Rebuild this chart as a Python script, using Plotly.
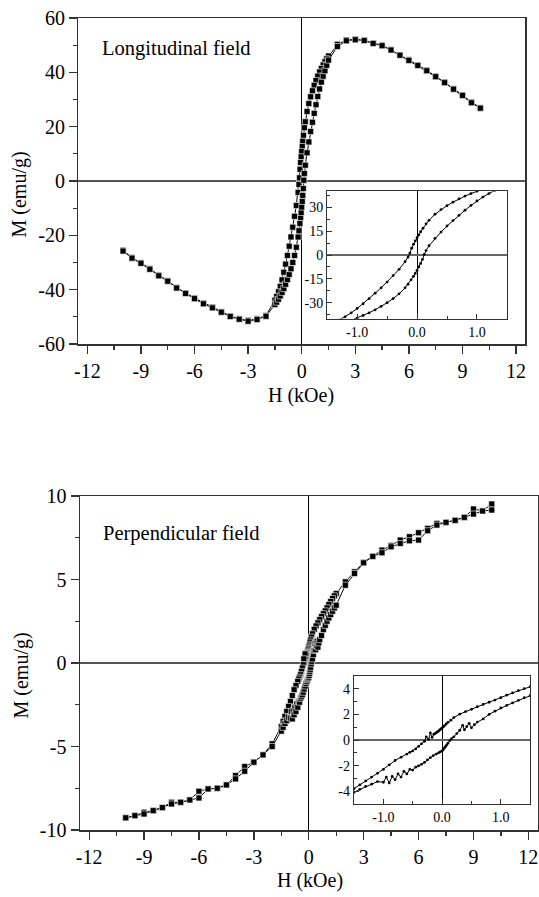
import plotly.graph_objects as go

# ---------------- Longitudinal field (top panel) ----------------
long_desc_H = [10, 9.5, 9, 8.5, 8, 7.5, 7, 6.5, 6, 5.5, 5, 4.5, 4, 3.5, 3, 2.5, 2, 1.5,
               1.4, 1.3, 1.2, 1.1, 1.0, 0.9, 0.8, 0.7, 0.6, 0.5, 0.4, 0.3, 0.2,
               0.15, 0.1, 0.06, 0.03, 0.0,
               -0.03, -0.06, -0.09, -0.12, -0.15,
               -0.2, -0.3, -0.4, -0.5, -0.6, -0.7, -0.8, -0.9, -1.0, -1.1, -1.2, -1.3, -1.4, -1.5,
               -2, -2.5, -3, -3.5, -4, -4.5, -5, -5.5, -6, -6.5, -7, -7.5, -8, -8.5, -9, -9.5, -10]
long_desc_M = [27.0, 29.0, 31.7, 34.0, 36.4, 38.6, 40.8, 42.7, 44.6, 46.4, 48.4, 50.0, 50.8, 51.8, 52.2, 51.9, 50.3, 46.0,
               45.0, 43.9, 42.7, 41.4, 40.1, 38.6, 37.0, 35.2, 33.2, 31.0, 28.5, 25.6, 21.8,
               19.6, 16.8, 14.6, 12.7, 10.9,
               8.9, 6.8, 4.3, 1.2, -1.3,
               -4.2, -9.0, -13.0, -17.0, -20.6, -24.0, -27.4, -30.6, -33.6, -36.4, -38.8, -40.8, -42.5, -43.9,
               -49.5, -50.7, -51.3, -50.7, -49.7, -48.1, -46.5, -45.0, -43.1, -41.2, -39.2, -36.7, -34.7, -32.2, -30.1, -28.2, -25.5]

long_asc_H = [-10, -9.5, -9, -8.5, -8, -7.5, -7, -6.5, -6, -5.5, -5, -4.5, -4, -3.5, -3, -2.5, -2, -1.5,
              -1.4, -1.3, -1.2, -1.1, -1.0, -0.9, -0.8, -0.7, -0.6, -0.5, -0.4, -0.3, -0.2,
              -0.15, -0.1, -0.06, -0.03, 0.0,
              0.03, 0.06, 0.09, 0.12, 0.15,
              0.2, 0.3, 0.4, 0.5, 0.6, 0.7, 0.8, 0.9, 1.0, 1.1, 1.2, 1.3, 1.4, 1.5,
              2, 2.5, 3, 3.5, 4, 4.5, 5, 5.5, 6, 6.5, 7, 7.5, 8, 8.5, 9, 9.5, 10]
long_asc_M = [-25.8, -28.4, -30.3, -32.5, -34.9, -36.9, -39.4, -41.4, -43.3, -45.2, -46.7, -48.3, -49.9, -50.9, -51.6, -51.0, -49.8, -45.5,
              -44.6, -43.5, -42.3, -41.0, -39.6, -38.0, -36.3, -34.4, -32.3, -30.0, -27.4, -24.4, -20.6,
              -18.3, -15.6, -13.4, -11.6, -9.6,
              -7.5, -5.3, -2.8, 0.3, 2.8,
              5.8, 10.4, 14.4, 18.2, 21.6, 24.9, 28.1, 31.1, 33.9, 36.4, 38.6, 40.6, 42.6, 44.5,
              49.5, 51.6, 52.0, 51.7, 50.6, 49.8, 48.2, 46.3, 44.4, 42.5, 40.6, 38.4, 36.2, 33.8, 31.5, 28.8, 26.8]

# ---------------- Perpendicular field (bottom panel) ----------------
perp_desc_H = [10, 9.5, 9, 8.5, 8, 7.5, 7, 6.5, 6, 5.5, 5, 4.5, 4, 3.5, 3, 2.5, 2, 1.5,
               1.4, 1.3, 1.2, 1.1, 1.0, 0.9, 0.8, 0.7, 0.6, 0.5, 0.4, 0.3, 0.2,
               0.15, 0.1, 0.07, 0.04, 0.02, 0.0, -0.02, -0.04, -0.06, -0.08, -0.1, -0.12, -0.14,
               -0.17, -0.2, -0.23, -0.27, -0.3, -0.35, -0.4, -0.45, -0.5, -0.55, -0.6, -0.7, -0.8, -0.9,
               -1.0, -1.1, -1.2, -1.3, -1.4, -1.5,
               -2, -2.5, -3, -3.5, -4, -4.5, -5, -5.5, -6, -6.5, -7, -7.5, -8, -8.5, -9, -9.5, -10]
perp_desc_M = [9.52, 9.12, 9.22, 8.72, 8.54, 8.42, 8.36, 8.06, 7.8, 7.56, 7.36, 7.04, 6.76, 6.4, 6.02, 5.46, 4.86, 4.16,
               4.02, 3.86, 3.68, 3.5, 3.3, 3.12, 2.95, 2.78, 2.6, 2.4, 2.22, 2.02, 1.75,
               1.55, 1.38, 1.25, 1.12, 1.02, 0.95, 0.86, 0.78, 0.7, 0.63, 0.56, 0.5, 0.45,
               0.2, 0.55, 0.05, 0.25, -0.1, -0.3, -0.5, -0.7, -0.85, -0.96, -1.1, -1.35, -1.6, -1.95,
               -2.3, -2.6, -2.9, -3.2, -3.5, -3.8,
               -4.84, -5.5, -5.94, -6.2, -6.74, -7.3, -7.5, -7.54, -7.68, -8.2, -8.34, -8.34, -8.66, -8.84, -8.94, -9.14, -9.27]

perp_asc_H = [-10, -9.5, -9, -8.5, -8, -7.5, -7, -6.5, -6, -5.5, -5, -4.5, -4, -3.5, -3, -2.5, -2, -1.5,
              -1.4, -1.3, -1.2, -1.1, -1.0, -0.95, -0.9, -0.85, -0.8, -0.75, -0.7, -0.65, -0.6, -0.55,
              -0.5, -0.45, -0.4, -0.35, -0.3, -0.25, -0.2, -0.15,
              -0.1, -0.06, -0.03, 0.0, 0.02, 0.04, 0.06, 0.08, 0.1, 0.13, 0.16,
              0.2, 0.25, 0.3, 0.35, 0.38, 0.42, 0.46, 0.5, 0.55, 0.6, 0.7, 0.8, 0.9, 1.0, 1.1, 1.2, 1.3, 1.4, 1.5,
              2, 2.5, 3, 3.5, 4, 4.5, 5, 5.5, 6, 6.5, 7, 7.5, 8, 8.5, 9, 9.5, 10]
perp_asc_M = [-9.27, -9.14, -9.04, -8.84, -8.66, -8.44, -8.34, -8.2, -8.08, -7.54, -7.5, -7.3, -6.94, -6.48, -5.94, -5.5, -5.0, -4.08,
              -3.85, -3.62, -3.45, -3.25, -3.3, -2.9, -3.35, -2.85, -3.1, -2.65, -2.9, -2.45, -2.65, -2.3,
              -2.35, -2.12, -2.02, -1.9, -1.75, -1.56, -1.38, -1.22,
              -1.1, -1.0, -0.92, -0.85, -0.75, -0.62, -0.5, -0.38, -0.25, -0.05, 0.1,
              0.25, 0.5, 0.75, 1.15, 0.8, 1.05, 1.3, 0.95, 1.2, 1.4, 1.65, 2.0, 2.25, 2.5, 2.7, 2.9, 3.1, 3.3, 3.46,
              4.66, 5.36, 6.0, 6.38, 6.6, 6.96, 7.16, 7.32, 7.36, 7.92, 8.26, 8.42, 8.54, 8.72, 8.92, 9.1, 9.16]

# ---------------- Tick labels ----------------
main_xticks = [-12, -9, -6, -3, 0, 3, 6, 9, 12]
main_xlabels = ["-12", "-9", "-6", "-3", "0", "3", "6", "9", "12"]
main_xminor = [-10.5, -7.5, -4.5, -1.5, 1.5, 4.5, 7.5, 10.5]
long_yticks = [-60, -40, -20, 0, 20, 40, 60]
long_ylabels = ["-60", "-40", "-20", "0", "20", "40", "60"]
long_yminor = [-50, -30, -10, 10, 30, 50]
perp_yticks = [-10, -5, 0, 5, 10]
perp_ylabels = ["-10", "-5", "0", "5", "10"]
perp_yminor = [-7.5, -2.5, 2.5, 7.5]
inset_xticks = [-1.0, 0.0, 1.0]
inset_xlabels = ["-1.0", "0.0", "1.0"]
inset_xminor = [-1.5, -0.5, 0.5, 1.5]
long_inset_yticks = [-30, -15, 0, 15, 30]
long_inset_ylabels = ["-30", "-15", "0", "15", "30"]
long_inset_yminor = [-37.5, -22.5, -7.5, 7.5, 22.5, 37.5]
perp_inset_yticks = [-4, -2, 0, 2, 4]
perp_inset_ylabels = ["-4", "-2", "0", "2", "4"]
perp_inset_yminor = [-5, -3, -1, 1, 3, 5]

W, H = 539, 897
FONT = "Liberation Serif"
AX = "#333333"


def px_x(a, b):
    return [a / W, b / W]


def px_y(top, bottom):
    return [1 - bottom / H, 1 - top / H]


fig = go.Figure()

main_marker = dict(symbol="square", size=6, color="black", line=dict(color="white", width=0.6))
inset_marker = dict(symbol="circle", size=2.8, color="black")

for hx, my in [(long_desc_H, long_desc_M), (long_asc_H, long_asc_M)]:
    fig.add_trace(go.Scatter(x=hx, y=my, mode="lines+markers", xaxis="x", yaxis="y",
                             line=dict(color="black", width=1), marker=main_marker, showlegend=False))
for hx, my in [(perp_desc_H, perp_desc_M), (perp_asc_H, perp_asc_M)]:
    fig.add_trace(go.Scatter(x=hx, y=my, mode="lines+markers", xaxis="x2", yaxis="y2",
                             line=dict(color="black", width=1), marker=main_marker, showlegend=False))
for hx, my in [(long_desc_H, long_desc_M), (long_asc_H, long_asc_M)]:
    fig.add_trace(go.Scatter(x=hx, y=my, mode="lines+markers", xaxis="x3", yaxis="y3",
                             line=dict(color="black", width=1), marker=inset_marker, showlegend=False))
for hx, my in [(perp_desc_H, perp_desc_M), (perp_asc_H, perp_asc_M)]:
    fig.add_trace(go.Scatter(x=hx, y=my, mode="lines+markers", xaxis="x4", yaxis="y4",
                             line=dict(color="black", width=1), marker=inset_marker, showlegend=False))


def main_axis(domain, rng, tickvals, ticktext, minorvals, anchor, zcolor, zwidth):
    return dict(domain=domain, range=rng, anchor=anchor, showline=True, linecolor=AX, linewidth=1.5,
                mirror=True, ticks="outside", ticklen=8, tickwidth=1.3, tickcolor=AX,
                tickmode="array", tickvals=tickvals, ticktext=ticktext, automargin=False,
                minor=dict(tickmode="array", tickvals=minorvals, ticks="outside", ticklen=4,
                           tickwidth=1.3, tickcolor=AX, showgrid=False),
                showgrid=False, zeroline=True, zerolinecolor=zcolor, zerolinewidth=zwidth,
                tickfont=dict(family=FONT, size=20, color="black"))


def inset_axis(domain, rng, tickvals, ticktext, minorvals, anchor, zcolor, zwidth):
    return dict(domain=domain, range=rng, anchor=anchor, showline=True, linecolor=AX, linewidth=1.2,
                mirror=True, ticks="inside", ticklen=5, tickwidth=1, tickcolor=AX,
                tickmode="array", tickvals=tickvals, ticktext=ticktext, automargin=False,
                minor=dict(tickmode="array", tickvals=minorvals, ticks="inside", ticklen=3,
                           tickwidth=1, tickcolor=AX, showgrid=False),
                showgrid=False, zeroline=True, zerolinecolor=zcolor, zerolinewidth=zwidth,
                tickfont=dict(family=FONT, size=14, color="black"))


fig.update_layout(
    width=W, height=H, margin=dict(l=0, r=0, t=0, b=0, pad=0, autoexpand=False),
    paper_bgcolor="white", plot_bgcolor="white", showlegend=False,
    font=dict(family=FONT, color="black"),
    xaxis=main_axis(px_x(78.4, 525), [-12.5, 12.5], main_xticks, main_xlabels, main_xminor, "y", "black", 1),
    yaxis=main_axis(px_y(18, 344), [-60, 60], long_yticks, long_ylabels, long_yminor, "x", "#555555", 1.6),
    xaxis2=main_axis(px_x(80, 537.5), [-12.5, 12.5], main_xticks, main_xlabels, main_xminor, "y2", "black", 1),
    yaxis2=main_axis(px_y(496, 830), [-10, 10], perp_yticks, perp_ylabels, perp_yminor, "x2", "#555555", 1.6),
    xaxis3=inset_axis(px_x(327.2, 506.9), [-1.5, 1.5], inset_xticks, inset_xlabels, inset_xminor, "y3", "black", 1),
    yaxis3=inset_axis(px_y(191.3, 318.7), [-40, 40], long_inset_yticks, long_inset_ylabels, long_inset_yminor, "x3", "#666666", 1.4),
    xaxis4=inset_axis(px_x(354, 530.2), [-1.5, 1.5], inset_xticks, inset_xlabels, inset_xminor, "y4", "black", 1),
    yaxis4=inset_axis(px_y(676, 804), [-5, 5], perp_inset_yticks, perp_inset_ylabels, perp_inset_yminor, "x4", "#666666", 1.4),
)


def ann(text, x, y, size=20, angle=0, xanchor="center"):
    fig.add_annotation(text=text, x=x / W, y=1 - y / H, xref="paper", yref="paper",
                       showarrow=False, textangle=angle, xanchor=xanchor, yanchor="middle",
                       font=dict(family=FONT, size=size, color="black"))


ann("Longitudinal field", 99.5, 48.5, size=20.5, xanchor="left")
ann("Perpendicular field", 100.5, 533.5, size=20.5, xanchor="left")
ann("M (emu/g)", 19.5, 195, angle=-90)
ann("M (emu/g)", 20.5, 676, angle=-90)
ann("H (kOe)", 301.4, 396)
ann("H (kOe)", 309.6, 880)

fig.write_html("out.html",
               config={"displayModeBar": False, "staticPlot": True},
               post_script="document.body.style.margin='0px';document.body.style.overflow='hidden';")
